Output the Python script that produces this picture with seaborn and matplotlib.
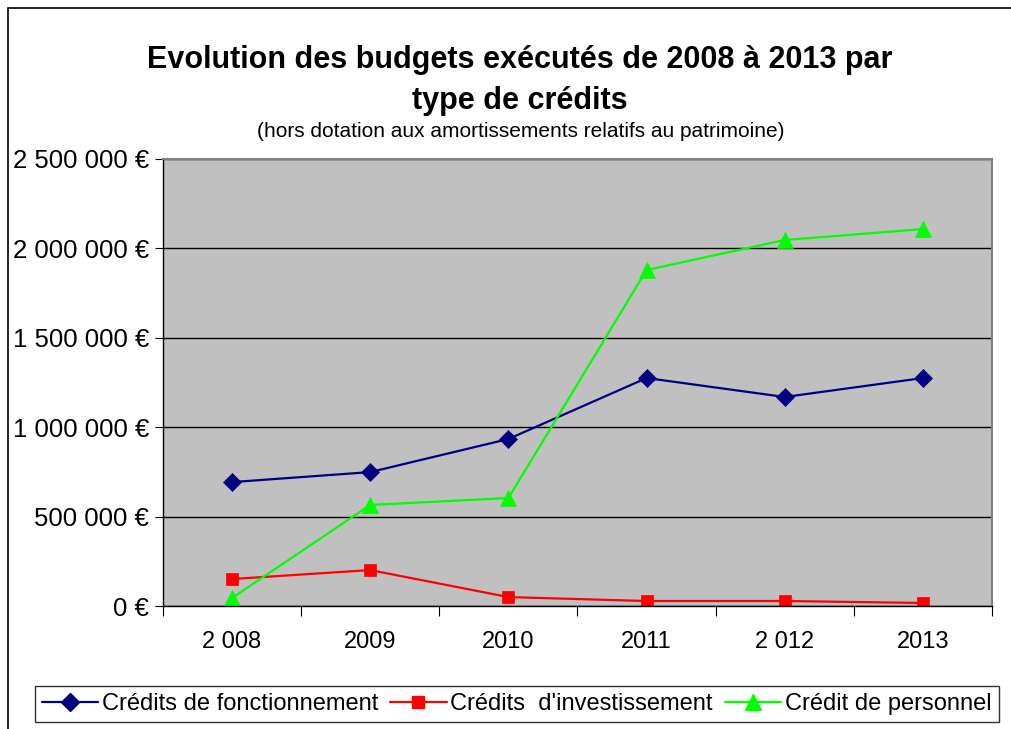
import numpy as np
import pandas as pd
import seaborn as sns
import matplotlib.pyplot as plt
from matplotlib.ticker import FuncFormatter, FixedLocator
from matplotlib.patches import Rectangle

# values (euros)
annees = ["2008", "2009", "2010", "2011", "2012", "2013"]
etiquettes = ["2 008", "2009", "2010", "2011", "2 012", "2013"]
fonctionnement = [693000, 749000, 934000, 1275000, 1169000, 1275000]
investissement = [151000, 201000, 50000, 28000, 28000, 17000]
personnel = [45000, 565000, 604000, 1879000, 2047000, 2108000]

series = ["Crédits de fonctionnement", "Crédits  d'investissement", "Crédit de personnel"]
couleurs = ["#000080", "#FF0000", "#00FF00"]
marqueurs = ["D", "s", "^"]

df = pd.DataFrame({
    "annee": annees * 3,
    "valeur": fonctionnement + investissement + personnel,
    "serie": [s for s in series for _ in annees],
})

sns.set_style("white")
plt.rcParams["font.family"] = ["Liberation Sans", "DejaVu Sans"]
plt.rcParams["text.color"] = "black"
plt.rcParams["xtick.color"] = "black"
plt.rcParams["ytick.color"] = "black"

fig = plt.figure(figsize=(10.11, 7.29), dpi=100)
ax = fig.add_axes([0.1612, 0.1687, 0.8200, 0.6132])
ax.set_facecolor("#C0C0C0")

sns.lineplot(data=df, x="annee", y="valeur", hue="serie", style="serie",
             palette=dict(zip(series, couleurs)),
             markers=dict(zip(series, marqueurs)), dashes=False,
             linewidth=1.6, markersize=9, ax=ax, legend=False)
for line, m in zip(ax.lines, marqueurs):
    line.set_markeredgecolor(line.get_color())
    line.set_markeredgewidth(0.5)
    if m == "^":
        line.set_markersize(11)
    elif m == "s":
        line.set_markersize(8.5)

ax.set_xlim(-0.5, 5.5)
ax.set_ylim(0, 2500000)
ax.set_yticks(np.arange(0, 2500001, 500000))
ax.yaxis.set_major_formatter(FuncFormatter(lambda v, p: f"{v:,.0f} €".replace(",", " ")))
ax.grid(axis="y", color="black", linewidth=1)
ax.set_axisbelow(True)

# category ticks between years, labels centred
ax.xaxis.set_major_locator(FixedLocator(np.arange(-0.5, 6, 1)))
ax.xaxis.set_minor_locator(FixedLocator(np.arange(6)))
ax.set_xticklabels([], minor=False)
ax.set_xticklabels(etiquettes, minor=True)
ax.tick_params(axis="x", which="major", length=7, direction="out", bottom=True, color="black")
ax.tick_params(axis="x", which="minor", length=0, pad=18, labelsize=17)
ax.tick_params(axis="y", length=6, direction="out", left=True, pad=4, labelsize=18.5, color="black")
ax.set_xlabel("")
ax.set_ylabel("")

for side in ["top", "right"]:
    ax.spines[side].set_color("#808080")
    ax.spines[side].set_linewidth(1.5)
for side in ["left", "bottom"]:
    ax.spines[side].set_color("black")
    ax.spines[side].set_linewidth(1)

fig.text(0.514, 0.8895, "Evolution des budgets exécutés de 2008 à 2013 par\ntype de crédits",
         ha="center", va="center", fontsize=22, fontweight="bold", linespacing=1.45)
fig.text(0.515, 0.820, "(hors dotation aux amortissements relatifs au patrimoine)",
         ha="center", va="center", fontsize=15)

# legend below the plot
handles = [plt.Line2D([], [], color=c, marker=m, markersize=9 if m != "^" else 11,
                      markeredgecolor=c, linewidth=1.6) for c, m in zip(couleurs, marqueurs)]
leg = fig.legend(handles, series, loc="center", bbox_to_anchor=(0.511, 0.0343), ncol=3,
                 frameon=True, fancybox=False, edgecolor="black", fontsize=17,
                 handlelength=2.4, handletextpad=0.15, columnspacing=0.5,
                 borderpad=0.3, borderaxespad=0)
leg.get_frame().set_linewidth(1)

# outer chart frame
fig.patches.append(Rectangle((8 / 1011, -0.1), 1.2, 1.1 - 8 / 729, transform=fig.transFigure,
                             fill=False, edgecolor="black", linewidth=1.2))

fig.savefig("out.png", dpi=100)
